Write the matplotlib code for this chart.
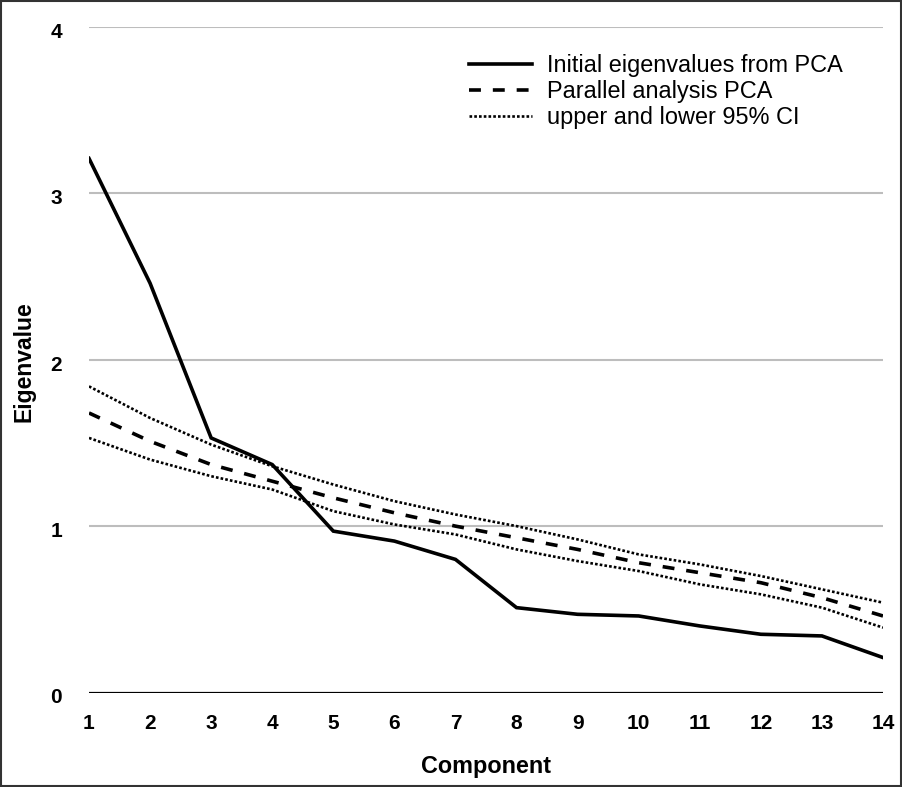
import matplotlib
matplotlib.use("Agg")
import matplotlib.pyplot as plt
from matplotlib.patches import Rectangle
from matplotlib.transforms import ScaledTranslation

components = list(range(1, 15))
initial_pca = [3.21, 2.46, 1.53, 1.37, 0.97, 0.91, 0.80, 0.51, 0.47, 0.46, 0.40, 0.35, 0.34, 0.21]
parallel_pca = [1.68, 1.51, 1.37, 1.27, 1.17, 1.08, 1.00, 0.93, 0.86, 0.78, 0.72, 0.66, 0.57, 0.46]
upper_ci = [1.84, 1.65, 1.49, 1.36, 1.25, 1.15, 1.07, 1.00, 0.92, 0.83, 0.77, 0.70, 0.62, 0.54]
lower_ci = [1.53, 1.40, 1.30, 1.22, 1.09, 1.01, 0.95, 0.86, 0.79, 0.73, 0.65, 0.59, 0.51, 0.39]
y_ticks = [0, 1, 2, 3, 4]
legend_labels = ["Initial eigenvalues from PCA", "Parallel analysis PCA", "upper and lower 95% CI"]

plt.rcParams['font.family'] = ['Liberation Sans', 'DejaVu Sans']

fig = plt.figure(figsize=(9.02, 7.87), dpi=100)
ax = fig.add_axes([89/902, 1 - 692.5/787, (883-89)/902, (692.5-27)/787])

for y in y_ticks[1:]:
    ax.axhline(y, color='#bdbdbd', lw=1.5, zorder=1)
ax.axhline(0, color='black', lw=1.6, zorder=2)

ax.plot(components, initial_pca, color='black', lw=2.6, solid_joinstyle='miter', label=legend_labels[0], zorder=5)
ax.plot(components, parallel_pca, color='black', lw=2.6, dashes=(3.3, 3.3), label=legend_labels[1], zorder=4)
ax.plot(components, upper_ci, color='black', lw=1.9, dashes=(1, 0.8), label=legend_labels[2], zorder=3)
ax.plot(components, lower_ci, color='black', lw=1.9, dashes=(1, 0.8), zorder=3)

ax.set_xlim(1, 14)
ax.set_ylim(0, 4)
ax.set_xticks(components)
ax.set_yticks(y_ticks)
ax.tick_params(length=0, labelsize=15)
ax.tick_params(axis='x', pad=15.5)
ax.tick_params(axis='y', pad=19.5)
for lab in ax.get_xticklabels() + ax.get_yticklabels():
    lab.set_fontweight('bold')
shift = ScaledTranslation(0, -2.5/72, fig.dpi_scale_trans)
for lab in ax.get_yticklabels():
    lab.set_transform(lab.get_transform() + shift)
for s in ax.spines.values():
    s.set_visible(False)

ax.set_xlabel('Component', fontsize=16.8, fontweight='bold', labelpad=15.5)
fig.text(24/902, 1 - 362/787, 'Eigenvalue', rotation=90, fontsize=16.5, fontweight='bold', ha='center', va='center')

leg = ax.legend(loc='upper left', bbox_to_anchor=((469-89)/(883-89), (692.5-54)/(692.5-27)),
                frameon=False, fontsize=16.9, handlelength=2.7, handletextpad=0.64,
                labelspacing=0.13, borderaxespad=0, borderpad=0)

fig.patches.append(Rectangle((0.001, 0.001), 0.998, 0.998, transform=fig.transFigure,
                             fill=False, edgecolor='#333333', lw=1.5))

fig.savefig('out.png', dpi=100)
